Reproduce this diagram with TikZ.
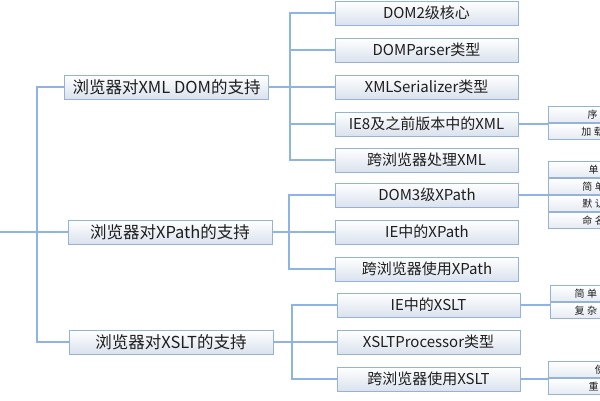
\documentclass[tikz,border=0pt]{standalone}
\usepackage{fontspec}
\usepackage{tikz}
\usetikzlibrary{positioning}
\newfontfamily\cjk{Noto Sans CJK SC}
\newfontfamily\cjkcell[LetterSpace=25]{Noto Sans CJK SC}
\definecolor{mapline}{RGB}{141,180,226}
\definecolor{boxedge}{RGB}{149,179,215}
\definecolor{boxshade}{RGB}{218,226,238}
\definecolor{boxtext}{RGB}{30,30,30}
\tikzset{
    topic-box/.style = {draw=boxedge, line width=1pt, top color=white, bottom color=boxshade, rectangle, minimum width=204pt, minimum height=24pt, inner sep=0pt, text=boxtext, font=\cjk\fontsize{16.5}{17}\selectfont},
    sub-box/.style = {topic-box, minimum width=183pt, font=\cjk\fontsize{15}{16}\selectfont},
    cell-box/.style = {draw=boxedge, line width=1pt, top color=white, bottom color=boxshade!70, rectangle, minimum width=140pt, minimum height=16pt, inner sep=0pt, text=boxtext, font=\cjkcell\fontsize{10}{11}\selectfont},
    branch/.style = {draw=mapline, line width=1.2pt},
}
\begin{document}
\begin{tikzpicture}[x=1pt,y=-1pt]
\useasboundingbox (0,0) rectangle (600,400);
\clip (0,0) rectangle (600,400);
% first level
\coordinate (root) at (0,232);
\coordinate (root-bar) at (37,232);
\node[topic-box] (xml-dom) at (166.5,87) {浏览器对XML DOM的支持};
\node[topic-box] (xpath) at (170,232) {浏览器对XPath的支持};
\node[topic-box] (xslt) at (171,342) {浏览器对XSLT的支持};
% second level
\node[sub-box] (dom2-core) at (426.5,13) {DOM2级核心};
\node[sub-box] (dom-parser) at (426.5,50) {DOMParser类型};
\node[sub-box] (xml-serializer) at (426.5,87) {XMLSerializer类型};
\node[sub-box] (ie8-xml) at (426.5,124) {IE8及之前版本中的XML};
\node[sub-box] (cross-xml) at (426.5,160) {跨浏览器处理XML};
\node[sub-box] (dom3-xpath) at (427,195) {DOM3级XPath};
\node[sub-box] (ie-xpath) at (427,232) {IE中的XPath};
\node[sub-box] (cross-xpath) at (427,269) {跨浏览器使用XPath};
\node[sub-box] (ie-xslt) at (428.5,305) {IE中的XSLT};
\node[sub-box] (xslt-processor) at (428.5,342) {XSLTProcessor类型};
\node[sub-box] (cross-xslt) at (428.5,379) {跨浏览器使用XSLT};
% third level
\node[cell-box, anchor=south west] (serialize) at (548,123) {序列化XML};
\node[cell-box, below=0pt of serialize] (load-xml) {加载XML文件};
\node[cell-box, anchor=south west] (simple-type) at (548,195) {简单类型结果};
\node[cell-box, above=0pt of simple-type] (single-node) {单节点结果};
\node[cell-box, below=0pt of simple-type] (default-type) {默认类型结果};
\node[cell-box, below=0pt of default-type] (namespace) {命名空间支持};
\node[cell-box, anchor=south west] (simple-xslt) at (550,302) {简单的XSLT转换};
\node[cell-box, below=0pt of simple-xslt] (complex-xslt) {复杂的XSLT转换};
\node[cell-box, anchor=south west] (use-param) at (548,378) {使用参数};
\node[cell-box, below=0pt of use-param] (reset-processor) {重置处理器};
% connectors
\draw[branch] (root) -- (root-bar);
\foreach \topic in {xml-dom,xpath,xslt}
    \draw[branch] (root-bar) |- (\topic.west);
\coordinate (xml-dom-bar) at (290,87);
\coordinate (xpath-bar) at (289,232);
\coordinate (xslt-bar) at (292,342);
\draw[branch] (xml-dom.east) -- (xml-dom-bar);
\draw[branch] (xpath.east) -- (xpath-bar);
\draw[branch] (xslt.east) -- (xslt-bar);
\foreach \sub in {dom2-core,dom-parser,xml-serializer,ie8-xml,cross-xml}
    \draw[branch] (xml-dom-bar) |- (\sub.west);
\foreach \sub in {dom3-xpath,ie-xpath,cross-xpath}
    \draw[branch] (xpath-bar) |- (\sub.west);
\foreach \sub in {ie-xslt,xslt-processor,cross-xslt}
    \draw[branch] (xslt-bar) |- (\sub.west);
\draw[branch] (ie8-xml.east) -- (ie8-xml.east -| serialize.south west);
\draw[branch] (dom3-xpath.east) -- (dom3-xpath.east -| simple-type.south west);
\draw[branch] (ie-xslt.east) -- (ie-xslt.east -| simple-xslt.south west);
\draw[branch] (cross-xslt.east) -- (cross-xslt.east -| use-param.south west);
\end{tikzpicture}
\end{document}
